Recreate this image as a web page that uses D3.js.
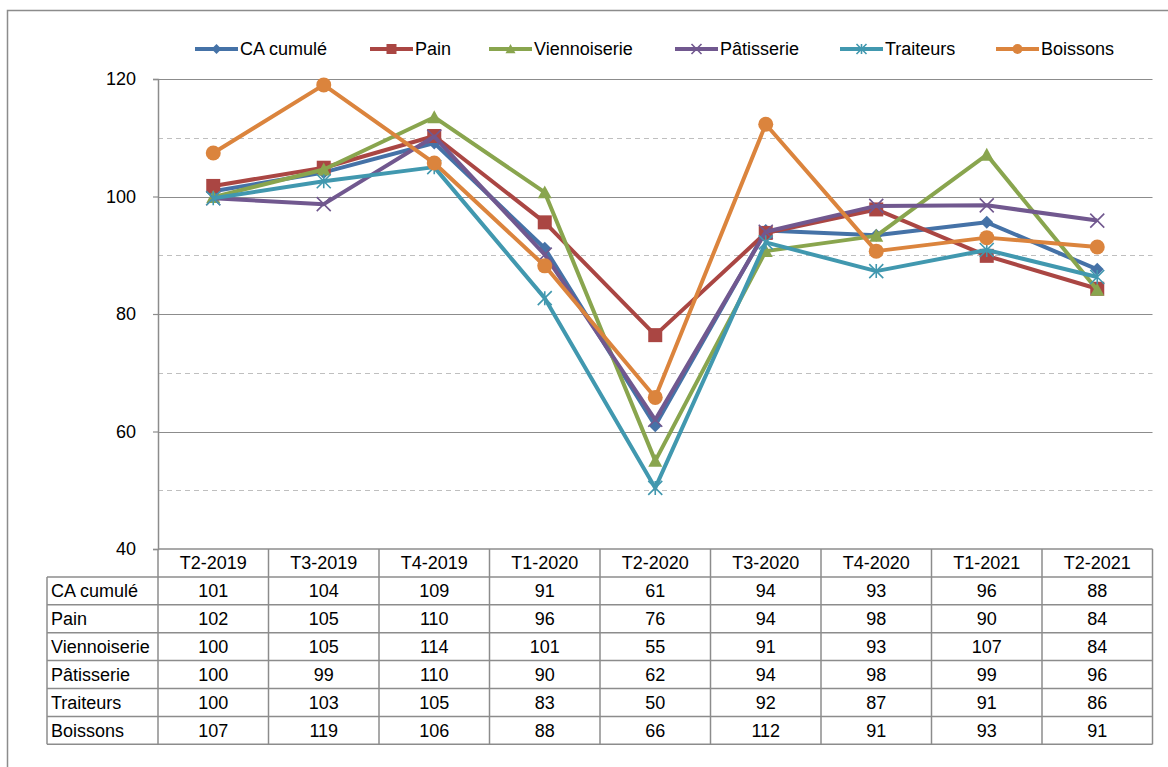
<!DOCTYPE html>
<html>
<head>
<meta charset="utf-8">
<script src="https://cdn.jsdelivr.net/npm/d3@7"></script>
<style>
  body { margin: 0; background: #fff; }
  svg text { font-family: "Liberation Sans", Arial, sans-serif; fill: #000; }
</style>
</head>
<body>
<div id="chart"></div>
<script>
// quarters and index values (base 100)
const quarters = ["T2-2019", "T3-2019", "T4-2019", "T1-2020", "T2-2020", "T3-2020", "T4-2020", "T1-2021", "T2-2021"];
const caCumule = [100.9, 104.1, 109.1, 91.2, 61.0, 94.2, 93.4, 95.6, 87.6];
const pain = [101.8, 104.9, 110.3, 95.6, 76.4, 93.8, 97.8, 89.9, 84.3];
const viennoiserie = [99.9, 104.6, 113.5, 100.7, 55.0, 90.7, 93.3, 107.1, 84.1];
const patisserie = [99.7, 98.7, 110.2, 90.1, 62.0, 94.0, 98.4, 98.5, 95.9];
const traiteurs = [99.7, 102.6, 105.0, 82.7, 50.4, 92.2, 87.3, 90.9, 86.3];
const boissons = [107.4, 119.0, 105.7, 88.2, 65.8, 112.3, 90.7, 93.0, 91.4];
const yTicks = [40, 60, 80, 100, 120];
const yMinor = [50, 70, 90, 110];

const series = [
    {name: "CA cumulé", values: caCumule, color: "#4572a7", marker: "diamond"},
    {name: "Pain", values: pain, color: "#aa4643", marker: "square"},
    {name: "Viennoiserie", values: viennoiserie, color: "#89a54e", marker: "triangle"},
    {name: "Pâtisserie", values: patisserie, color: "#71588f", marker: "cross"},
    {name: "Traiteurs", values: traiteurs, color: "#4198af", marker: "star"},
    {name: "Boissons", values: boissons, color: "#db843d", marker: "circle"}
];

const width = 1168, height = 767;
const plotLeft = 158, plotRight = 1152.5, plotTop = 79, plotBottom = 549;
const rowH = 27.9, labelLeft = 47;
const fontSize = "18px";

const svg = d3.select("#chart").append("svg")
    .attr("width", width)
    .attr("height", height);

const x = d3.scalePoint().domain(quarters).range([plotLeft, plotRight]).padding(0.5);
const y = d3.scaleLinear().domain([40, 120]).range([plotBottom, plotTop]);
const step = x.step();

// chart frame (only top and left edges show)
svg.append("path")
    .attr("d", "M7.5,767 L7.5,10.5 L1168,10.5")
    .attr("fill", "none")
    .attr("stroke", "#8c8c8c")
    .attr("stroke-width", 1.5);

// gridlines
svg.append("g").selectAll("line")
    .data(yMinor)
    .join("line")
    .attr("x1", plotLeft).attr("x2", plotRight)
    .attr("y1", d => Math.round(y(d)) + 0.5).attr("y2", d => Math.round(y(d)) + 0.5)
    .attr("stroke", "#bfbfbf")
    .attr("stroke-width", 1.2)
    .attr("stroke-dasharray", "5,4");

svg.append("g").selectAll("line")
    .data(yTicks.filter(d => d > 40))
    .join("line")
    .attr("x1", plotLeft).attr("x2", plotRight)
    .attr("y1", d => Math.round(y(d)) + 0.5).attr("y2", d => Math.round(y(d)) + 0.5)
    .attr("stroke", "#8c8c8c")
    .attr("stroke-width", 1.2);

// y axis
const yAxis = svg.append("g")
    .attr("transform", "translate(" + plotLeft + ",0)")
    .call(d3.axisLeft(y).tickValues(yTicks).tickSize(5).tickPadding(17));
yAxis.select(".domain").attr("stroke", "#8c8c8c").attr("stroke-width", 1.5);
yAxis.selectAll(".tick line").attr("stroke", "#8c8c8c").attr("stroke-width", 1.2);
yAxis.selectAll(".tick text")
    .style("font-size", fontSize)
    .style("font-family", "'Liberation Sans', Arial, sans-serif")
    .attr("fill", "#000");

// data table
const table = svg.append("g");
const tableBottom = plotBottom + rowH * (series.length + 1);
const gridColor = "#8c8c8c";

// horizontal lines
table.append("line")
    .attr("x1", plotLeft).attr("x2", plotRight).attr("y1", plotBottom).attr("y2", plotBottom)
    .attr("stroke", gridColor).attr("stroke-width", 1.5);
for (let i = 1; i <= series.length + 1; i++) {
    table.append("line")
        .attr("x1", labelLeft).attr("x2", plotRight)
        .attr("y1", plotBottom + rowH * i).attr("y2", plotBottom + rowH * i)
        .attr("stroke", gridColor).attr("stroke-width", 1.5);
}
// vertical lines
table.append("line")
    .attr("x1", labelLeft).attr("x2", labelLeft)
    .attr("y1", plotBottom + rowH).attr("y2", tableBottom)
    .attr("stroke", gridColor).attr("stroke-width", 1.5);
quarters.forEach(q => {
    const bx = x(q) - step / 2;
    table.append("line")
        .attr("x1", bx).attr("x2", bx).attr("y1", plotBottom).attr("y2", tableBottom)
        .attr("stroke", gridColor).attr("stroke-width", 1.5);
});
table.append("line")
    .attr("x1", plotRight).attr("x2", plotRight).attr("y1", plotBottom).attr("y2", tableBottom)
    .attr("stroke", gridColor).attr("stroke-width", 1.5);

// header
table.selectAll("text.head")
    .data(quarters)
    .join("text")
    .attr("class", "head")
    .attr("x", d => x(d))
    .attr("y", plotBottom + rowH / 2)
    .attr("dy", "0.36em")
    .attr("text-anchor", "middle")
    .style("font-size", fontSize)
    .text(d => d);

// rows
series.forEach((s, i) => {
    const cy = plotBottom + rowH * (i + 1) + rowH / 2;
    table.append("text")
        .attr("x", labelLeft + 4)
        .attr("y", cy)
        .attr("dy", "0.36em")
        .style("font-size", fontSize)
        .text(s.name);
    table.selectAll("text.v" + i)
        .data(s.values)
        .join("text")
        .attr("class", "v" + i)
        .attr("x", (d, j) => x(quarters[j]))
        .attr("y", cy)
        .attr("dy", "0.36em")
        .attr("text-anchor", "middle")
        .style("font-size", fontSize)
        .text(d => d3.format(".0f")(d));
});

// markers
function drawMarker(g, type, color, size) {
    const h = size / 2;
    if (type === "diamond") {
        g.append("path").attr("d", `M0,${-h} L${h},0 L0,${h} L${-h},0 Z`).attr("fill", color);
    } else if (type === "square") {
        g.append("rect").attr("x", -h).attr("y", -h).attr("width", size).attr("height", size).attr("fill", color);
    } else if (type === "triangle") {
        g.append("path").attr("d", `M0,${-h} L${h},${h * 0.85} L${-h},${h * 0.85} Z`).attr("fill", color);
    } else if (type === "circle") {
        g.append("circle").attr("r", h).attr("fill", color);
    } else if (type === "cross") {
        g.append("path").attr("d", `M${-h},${-h} L${h},${h} M${-h},${h} L${h},${-h}`)
            .attr("stroke", color).attr("stroke-width", 1.6).attr("fill", "none");
    } else if (type === "star") {
        g.append("path").attr("d", `M${-h},${-h} L${h},${h} M${-h},${h} L${h},${-h} M0,${-h} L0,${h}`)
            .attr("stroke", color).attr("stroke-width", 1.6).attr("fill", "none");
    }
}

const markerSize = {diamond: 13, square: 14, triangle: 14, circle: 15, cross: 14, star: 14};

// series lines
const line = d3.line()
    .x((d, i) => x(quarters[i]))
    .y(d => y(d));

series.forEach(s => {
    const g = svg.append("g");
    g.append("path")
        .datum(s.values)
        .attr("d", line)
        .attr("fill", "none")
        .attr("stroke", s.color)
        .attr("stroke-width", 4)
        .attr("stroke-linejoin", "round");
    s.values.forEach((v, i) => {
        const m = g.append("g").attr("transform", "translate(" + x(quarters[i]) + "," + y(v) + ")");
        drawMarker(m, s.marker, s.color, markerSize[s.marker]);
    });
});

// legend
const legendX = [195, 370, 489, 675, 840, 996];
const legendY = 49;
series.forEach((s, i) => {
    const g = svg.append("g").attr("transform", "translate(" + legendX[i] + "," + legendY + ")");
    g.append("line")
        .attr("x1", 0).attr("x2", 43).attr("y1", 0).attr("y2", 0)
        .attr("stroke", s.color).attr("stroke-width", 4);
    const m = g.append("g").attr("transform", "translate(21.5,0)");
    drawMarker(m, s.marker, s.color, 10);
    g.append("text")
        .attr("x", 45)
        .attr("y", 0)
        .attr("dy", "0.36em")
        .style("font-size", fontSize)
        .text(s.name);
});
</script>
</body>
</html>
